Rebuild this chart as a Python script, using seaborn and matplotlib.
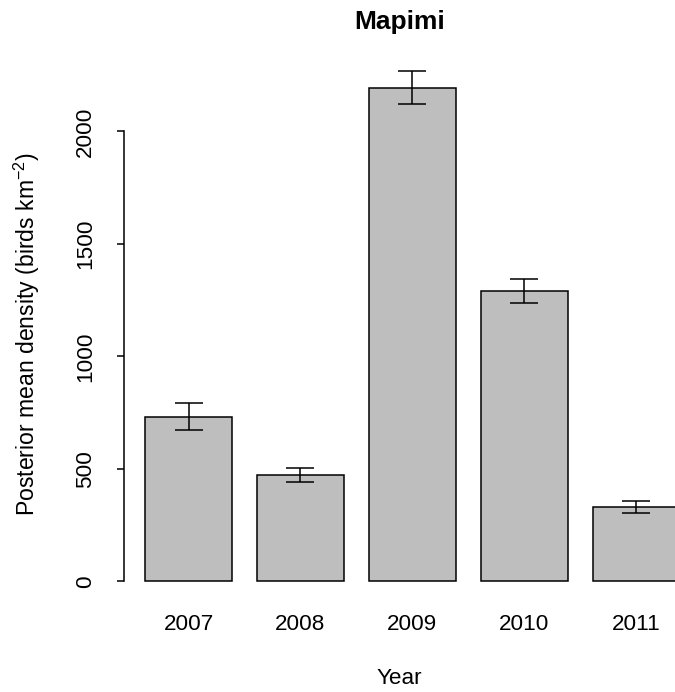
import numpy as np
import pandas as pd
import matplotlib
matplotlib.use("Agg")
import matplotlib.pyplot as plt
import seaborn as sns

# Posterior mean density per survey year, with credible interval bounds
years = ["2007", "2008", "2009", "2010", "2011"]
density = [731, 473, 2194, 1292, 331]
lower = [671, 442, 2120, 1239, 303]
upper = [793, 504, 2267, 1343, 357]
y_ticks = [0, 500, 1000, 1500, 2000]

sns.set_style("white")
plt.rcParams["font.family"] = ["Liberation Sans", "DejaVu Sans"]
plt.rcParams["mathtext.default"] = "regular"

df = pd.DataFrame({"Year": years, "Density": density})

fig = plt.figure(figsize=(6.75, 6.92), dpi=100)
ax = fig.add_axes([124 / 675, 91 / 692, 551 / 675, 533 / 692])

sns.barplot(data=df, x="Year", y="Density", color="#bebebe", saturation=1,
            edgecolor="black", linewidth=1.1, width=0.772, errorbar=None, ax=ax)

pos = np.arange(len(years))
dens = np.array(density)
ax.errorbar(pos, dens,
            yerr=[dens - np.array(lower), np.array(upper) - dens],
            fmt="none", ecolor="black", elinewidth=1.1, capsize=10,
            capthick=1.1, zorder=5)

ax.set_xlim(-0.576, 4.344)
ax.set_ylim(-88, 2282)

for side in ["top", "right", "bottom"]:
    ax.spines[side].set_visible(False)
ax.spines["left"].set_bounds(0, 2000)
ax.spines["left"].set_linewidth(1.1)
ax.spines["left"].set_color("black")

ax.set_yticks(y_ticks)
ax.set_yticklabels([str(t) for t in y_ticks], rotation=90, va="center")
ax.tick_params(axis="y", left=True, length=5, width=1.1, color="black",
               pad=15, labelsize=16.2, labelcolor="black")
ax.tick_params(axis="x", bottom=False, length=0, pad=9, labelsize=16.2,
               labelcolor="black")

ax.set_xlabel("Year", fontsize=16.2, color="black")
ax.xaxis.set_label_coords(0.5, -0.125)
ax.set_ylabel("Posterior mean density (birds km$^{-2}$)", fontsize=16.6,
              color="black")
ax.yaxis.set_label_coords((42 - 124) / 551, 0.5)

ax.set_title("Mapimi", fontsize=19, fontweight="bold", pad=28, color="black")

fig.savefig("out.png", dpi=100)
